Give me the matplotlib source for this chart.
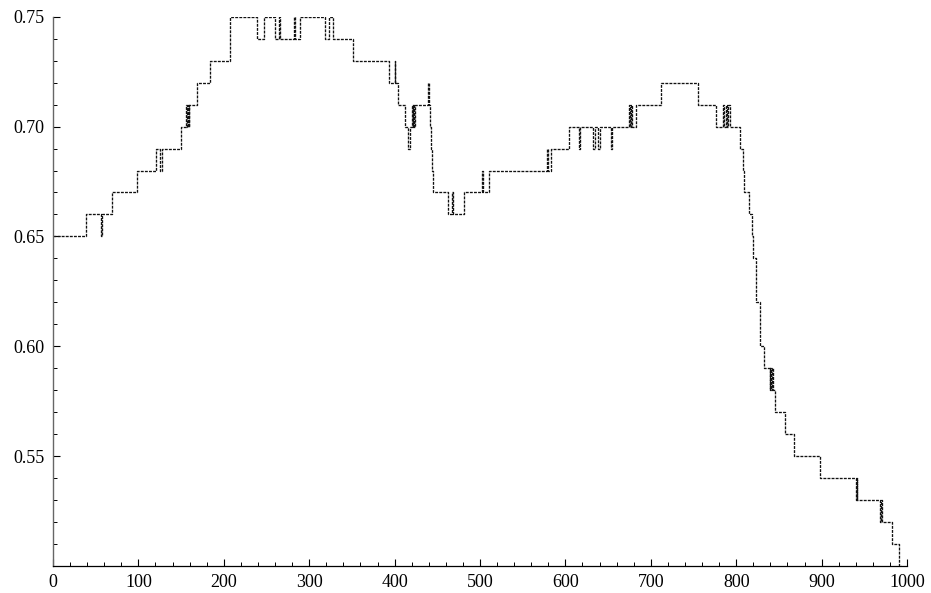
import numpy as np
import matplotlib
matplotlib.use("Agg")
import matplotlib.pyplot as plt
from matplotlib.ticker import MultipleLocator, FormatStrFormatter

# step change points (x where the value switches, new value)
step_x = [0, 38.6, 56.1, 57.3, 69.3, 98.5, 121.0, 124.8, 127.2, 150.4,
          156.3, 157.3, 158.2, 159.0, 159.6, 168.3, 183.9, 207.3, 239.2, 247.0,
          259.5, 264.5, 265.8, 282.5, 283.6, 289.0, 318.0, 323.7, 327.6, 351.8,
          393.1, 400.0, 400.8, 404.0, 412.6, 415.3, 418.0, 420.0, 421.0, 422.0,
          423.0, 424.0, 439.5, 440.6, 441.8, 442.8, 444.0, 445.5, 462.0, 467.0,
          468.7, 481.6, 502.2, 503.8, 510.5, 578.0, 579.3, 583.0, 604.0, 616.0,
          617.5, 632.5, 634.5, 638.6, 640.4, 653.0, 654.2, 674.5, 675.5, 676.5,
          677.8, 683.0, 711.5, 755.5, 775.8, 784.0, 786.0, 787.5, 789.0, 790.5,
          792.5, 805.0, 808.0, 809.6, 814.7, 818.6, 819.5, 823.3, 827.6, 832.6,
          839.0, 840.0, 841.0, 842.0, 843.0, 845.0, 857.6, 867.4, 897.7, 940.6,
          941.2, 941.8, 968.7, 969.5, 970.5, 982.3, 990.9, 993.0]
step_y = [0.65, 0.66, 0.65, 0.66, 0.67, 0.68, 0.69, 0.68, 0.69, 0.70,
          0.71, 0.70, 0.71, 0.70, 0.71, 0.72, 0.73, 0.75, 0.74, 0.75,
          0.74, 0.75, 0.74, 0.75, 0.74, 0.75, 0.74, 0.75, 0.74, 0.73,
          0.72, 0.73, 0.72, 0.71, 0.70, 0.69, 0.70, 0.71, 0.70, 0.71,
          0.70, 0.71, 0.72, 0.71, 0.70, 0.69, 0.68, 0.67, 0.66, 0.67,
          0.66, 0.67, 0.68, 0.67, 0.68, 0.69, 0.68, 0.69, 0.70, 0.69,
          0.70, 0.69, 0.70, 0.69, 0.70, 0.69, 0.70, 0.71, 0.70, 0.71,
          0.70, 0.71, 0.72, 0.71, 0.70, 0.71, 0.70, 0.71, 0.70, 0.71,
          0.70, 0.69, 0.68, 0.67, 0.66, 0.65, 0.64, 0.62, 0.60, 0.59,
          0.58, 0.59, 0.58, 0.59, 0.58, 0.57, 0.56, 0.55, 0.54, 0.53,
          0.54, 0.53, 0.52, 0.53, 0.52, 0.51, 0.50, 0.50]

x_ticks = [0, 100, 200, 300, 400, 500, 600, 700, 800, 900, 1000]
y_ticks = [0.55, 0.60, 0.65, 0.70, 0.75]

plt.rcParams['font.family'] = ['Liberation Serif', 'DejaVu Serif']

fig = plt.figure(figsize=(9.31, 5.93), dpi=100)
ax = fig.add_axes([53 / 931, 1 - 566 / 593, 854 / 931, 549.3 / 593])

ax.step(step_x, step_y, where='post', color='#111111', lw=0.95,
        linestyle=(0, (2.2, 0.9)))

ax.set_xlim(0, 1000)
ax.set_ylim(0.50, 0.75)
ax.set_xticks(x_ticks)
ax.set_yticks(y_ticks)
ax.yaxis.set_major_formatter(FormatStrFormatter('%.2f'))
ax.xaxis.set_minor_locator(MultipleLocator(20))
ax.yaxis.set_minor_locator(MultipleLocator(0.01))

for side in ['top', 'right']:
    ax.spines[side].set_visible(False)
ax.spines['left'].set_color('#666666')
ax.spines['left'].set_linewidth(1.0)
ax.spines['bottom'].set_color('black')
ax.spines['bottom'].set_linewidth(0.9)

ax.tick_params(which='major', direction='in', length=5, width=0.8,
               labelsize=13, pad=6)
ax.tick_params(which='minor', direction='in', length=3, width=0.7)

fig.savefig("out.png", dpi=100)
